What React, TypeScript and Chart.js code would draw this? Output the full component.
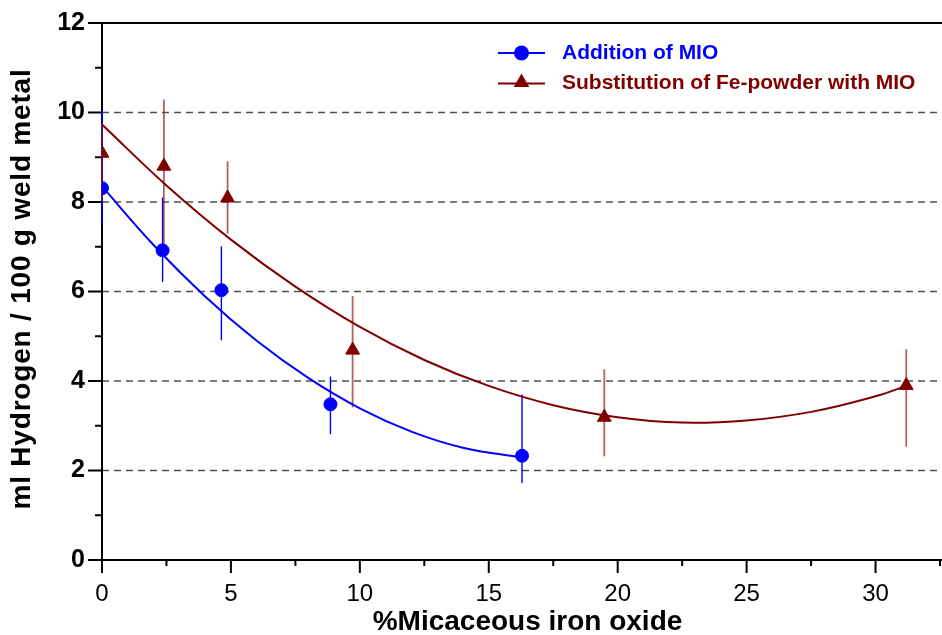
import React, { useEffect, useRef } from "react";
import { Chart, registerables } from "chart.js";

Chart.register(...registerables);

// ---- data ----
const seriesNames = ["Addition of MIO", "Substitution of Fe-powder with MIO"];

const blueX = [0, 2.35, 4.63, 8.86, 16.29];
const blueY = [8.31, 6.92, 6.03, 3.48, 2.33];
const blueErrLow = [7.52, 6.21, 4.91, 2.81, 1.72];
const blueErrHigh = [10.05, 8.1, 7.01, 4.1, 3.7];

const redX = [0, 2.4, 4.87, 9.72, 19.48, 31.19];
const redY = [9.09, 8.8, 8.09, 4.69, 3.19, 3.9];
const redErrLow = [8.03, 7.07, 7.29, 3.41, 2.32, 2.53];
const redErrHigh = [9.75, 10.29, 8.91, 5.9, 4.26, 4.71];

// fitted trend curves
const blueFitX = [0, 2, 4, 6, 8, 10, 12, 14, 16.29];
const blueFitY = [8.35, 7.04, 5.89, 4.9, 4.07, 3.39, 2.87, 2.51, 2.29];
const redFitX = [0, 2.5, 5, 7.5, 10, 12.5, 15, 17.5, 20, 22.5, 25, 27.5, 30, 31.19];
const redFitY = [9.73, 8.37, 7.16, 6.11, 5.21, 4.47, 3.89, 3.46, 3.19, 3.07, 3.12, 3.31, 3.66, 3.89];

// axes
const xMin = 0;
const xMax = 32.5;
const xMajorTicks = [0, 5, 10, 15, 20, 25, 30];
const xMinorTicks = [2.5, 7.5, 12.5, 17.5, 22.5, 27.5, 32.5];
const yMin = 0;
const yMax = 12;
const yMajorTicks = [0, 2, 4, 6, 8, 10, 12];
const yMinorTicks = [1, 3, 5, 7, 9, 11];
const yGridLines = [2, 4, 6, 8, 10];

const xTitle = "%Micaceous iron oxide";
const yTitle = "ml Hydrogen / 100 g weld metal";

const BLUE = "#0000ff";
const RED = "#800000";
const RED_ERR = "rgba(150, 30, 30, 0.7)";
const FONT = "'Liberation Sans', Arial, Helvetica, sans-serif";

const toPts = (xs: number[], ys: number[]) => xs.map((x, i) => ({ x, y: ys[i] }));

const decorPlugin = {
  id: "decor",
  beforeDatasetsDraw(chart: any) {
    const { ctx, chartArea, scales } = chart;
    const x = scales.x;
    const y = scales.y;
    const left = chartArea.left;
    const right = chartArea.right;
    ctx.save();
    // dashed horizontal grid
    ctx.strokeStyle = "#505050";
    ctx.lineWidth = 1.3;
    ctx.setLineDash([7, 5]);
    for (const v of yGridLines) {
      const py = y.getPixelForValue(v);
      ctx.beginPath();
      ctx.moveTo(left, py);
      ctx.lineTo(right + 4, py);
      ctx.stroke();
    }
    ctx.setLineDash([]);
    // axes lines
    ctx.strokeStyle = "#000";
    ctx.lineWidth = 2;
    const x0 = x.getPixelForValue(xMin);
    const y0 = y.getPixelForValue(yMin);
    const yTop = y.getPixelForValue(yMax);
    ctx.beginPath();
    ctx.moveTo(x0, yTop);
    ctx.lineTo(x0, y0);
    ctx.moveTo(x0 - 1, y0);
    ctx.lineTo(right + 4, y0);
    ctx.moveTo(x0 - 1, yTop);
    ctx.lineTo(right + 4, yTop);
    ctx.stroke();
    // ticks
    ctx.beginPath();
    for (const v of yMajorTicks) {
      const py = y.getPixelForValue(v);
      ctx.moveTo(x0 - 14, py);
      ctx.lineTo(x0, py);
    }
    for (const v of yMinorTicks) {
      const py = y.getPixelForValue(v);
      ctx.moveTo(x0 - 7, py);
      ctx.lineTo(x0, py);
    }
    for (const v of xMajorTicks) {
      const px = x.getPixelForValue(v);
      ctx.moveTo(px, y0);
      ctx.lineTo(px, y0 + 13);
    }
    for (const v of xMinorTicks) {
      const px = x.getPixelForValue(v);
      ctx.moveTo(px, y0);
      ctx.lineTo(px, y0 + 6);
    }
    ctx.stroke();
    // error bars
    ctx.strokeStyle = BLUE;
    ctx.lineWidth = 1.4;
    ctx.beginPath();
    blueX.forEach((v, i) => {
      const px = x.getPixelForValue(v);
      ctx.moveTo(px, y.getPixelForValue(blueErrLow[i]));
      ctx.lineTo(px, y.getPixelForValue(blueErrHigh[i]));
    });
    ctx.stroke();
    ctx.strokeStyle = RED_ERR;
    ctx.lineWidth = 1.8;
    ctx.beginPath();
    redX.forEach((v, i) => {
      const px = x.getPixelForValue(v);
      ctx.moveTo(px, y.getPixelForValue(redErrLow[i]));
      ctx.lineTo(px, y.getPixelForValue(redErrHigh[i]));
    });
    ctx.stroke();
    ctx.restore();
  },
  afterDraw(chart: any) {
    const { ctx } = chart;
    ctx.save();
    // axis titles
    ctx.fillStyle = "#000";
    ctx.font = `bold 28px ${FONT}`;
    ctx.textAlign = "center";
    ctx.textBaseline = "middle";
    ctx.fillText(xTitle, 527.5, 622);
    ctx.save();
    ctx.translate(22, 289);
    ctx.rotate(-Math.PI / 2);
    try {
      (ctx as any).letterSpacing = "0.8px";
    } catch (e) {}
    ctx.fillText(yTitle, 0, 0);
    ctx.restore();

    // legend
    ctx.font = `bold 21px ${FONT}`;
    ctx.textBaseline = "middle";
    ctx.textAlign = "left";
    let ly = 53;
    ctx.strokeStyle = BLUE;
    ctx.lineWidth = 2;
    ctx.beginPath();
    ctx.moveTo(498, ly);
    ctx.lineTo(545, ly);
    ctx.stroke();
    ctx.fillStyle = BLUE;
    ctx.beginPath();
    ctx.arc(521.5, ly, 7.5, 0, Math.PI * 2);
    ctx.fill();
    ctx.fillText(seriesNames[0], 562, ly);
    ly = 83.5;
    ctx.strokeStyle = RED;
    ctx.beginPath();
    ctx.moveTo(498, ly);
    ctx.lineTo(545, ly);
    ctx.stroke();
    ctx.fillStyle = RED;
    const r = 9;
    const cy = ly - 1;
    ctx.beginPath();
    ctx.moveTo(521.5, cy - r);
    ctx.lineTo(521.5 + r * 0.866, cy + r / 2);
    ctx.lineTo(521.5 - r * 0.866, cy + r / 2);
    ctx.closePath();
    ctx.fill();
    ctx.fillText(seriesNames[1], 562, ly);
    ctx.restore();
  },
};

export default function App() {
  const canvasRef = useRef<HTMLCanvasElement | null>(null);

  useEffect(() => {
    const canvas = canvasRef.current;
    if (!canvas) return;
    const chart = new Chart(canvas, {
      type: "scatter",
      data: {
        datasets: [
          {
            label: seriesNames[0] + " fit",
            data: toPts(blueFitX, blueFitY),
            showLine: true,
            borderColor: BLUE,
            borderWidth: 2,
            pointRadius: 0,
            tension: 0.4,
            order: 4,
          },
          {
            label: seriesNames[1] + " fit",
            data: toPts(redFitX, redFitY),
            showLine: true,
            borderColor: RED,
            borderWidth: 2,
            pointRadius: 0,
            tension: 0.4,
            order: 3,
          },
          {
            label: seriesNames[0],
            data: toPts(blueX, blueY),
            showLine: false,
            pointStyle: "circle",
            pointRadius: 6.5,
            borderWidth: 1,
            borderColor: BLUE,
            backgroundColor: BLUE,
            order: 2,
          },
          {
            label: seriesNames[1],
            data: toPts(redX, redY),
            showLine: false,
            pointStyle: "triangle",
            pointRadius: 8,
            borderWidth: 1,
            borderColor: RED,
            backgroundColor: RED,
            order: 1,
          },
        ],
      },
      options: {
        animation: false,
        responsive: false,
        devicePixelRatio: 1,
        layout: { autoPadding: false, padding: { top: 23, right: 2, left: 0, bottom: 0 } },
        plugins: {
          legend: { display: false },
          tooltip: { enabled: false },
        },
        scales: {
          x: {
            type: "linear",
            min: xMin,
            max: xMax,
            grid: { display: false, drawTicks: true, tickLength: 20 },
            border: { display: false },
            afterBuildTicks: (s: any) => {
              s.ticks = xMajorTicks.map((v) => ({ value: v }));
            },
            ticks: {
              includeBounds: false,
              autoSkip: false,
              maxRotation: 0,
              color: "#000",
              padding: 0,
              font: { size: 24, family: FONT },
              callback: (v: any) => String(v),
            },
            title: { display: false },
            afterFit: (s: any) => {
              s.height = 75;
              s.paddingLeft = 0;
              s.paddingRight = 0;
            },
          },
          y: {
            type: "linear",
            min: yMin,
            max: yMax,
            grid: { display: false, drawTicks: true, tickLength: 17 },
            border: { display: false },
            afterBuildTicks: (s: any) => {
              s.ticks = yMajorTicks.map((v) => ({ value: v }));
            },
            ticks: {
              color: "#000",
              padding: 0,
              font: { size: 25, weight: "bold", family: FONT },
              callback: (v: any) => String(v),
            },
            title: { display: false },
            afterFit: (s: any) => {
              s.width = 102;
              s.paddingTop = 0;
              s.paddingBottom = 0;
            },
          },
        },
      },
      plugins: [decorPlugin],
    } as any);
    return () => chart.destroy();
  }, []);

  return (
    <div style={{ position: "absolute", left: 0, top: 0, width: 942, height: 635, background: "#fff" }}>
      <canvas ref={canvasRef} width={942} height={635} style={{ display: "block" }} />
    </div>
  );
}
